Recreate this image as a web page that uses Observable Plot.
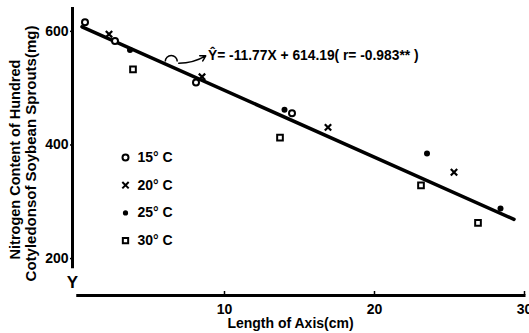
<!DOCTYPE html>
<html>
<head>
<meta charset="utf-8">
<script src="https://cdn.jsdelivr.net/npm/d3@7"></script>
<script src="https://cdn.jsdelivr.net/npm/@observablehq/plot@0.6"></script>
<style>
  html, body { margin: 0; padding: 0; background: #fff; }
  svg { display: block; }
</style>
</head>
<body>
<div id="chart"></div>
<script>
// ---- data ----
const series = ["15° C", "20° C", "25° C", "30° C"];
const x15 = [0.7, 2.7, 8.1, 14.5];
const y15 = [616, 583, 510, 456];
const x20 = [2.3, 8.5, 16.9, 25.3];
const y20 = [595, 520, 431, 352];
const x25 = [3.7, 14.0, 23.5, 28.4];
const y25 = [567, 462, 385, 288];
const x30 = [3.9, 13.7, 23.1, 26.9];
const y30 = [533, 413, 329, 263];
const fitX = [0.5, 29.3];
const fitY = [608, 269];
const xTicks = [10, 20, 30];
const yTicks = [200, 400, 600];
const equation = "Ŷ= -11.77X + 614.19( r= -0.983** )";
const xLabel = "Length of Axis(cm)";
const yLabel1 = "Nitrogen Content of Hundred";
const yLabel2 = "Cotyledonsof Soybean Sprouts(mg)";

const pts = (xs, ys) => xs.map((x, i) => ({x, y: ys[i]}));
const fit = pts(fitX, fitY);

const font = "Liberation Sans, Arial, sans-serif";
const semicircle = {
  draw(ctx, size) {
    const r = Math.sqrt(size / Math.PI);
    ctx.moveTo(-r, 0);
    ctx.arc(0, 0, r, Math.PI, 2 * Math.PI);
  }
};

const legendSym = [
  {symbol: "circle", fill: "none", stroke: "#000", r: 3},
  {symbol: "times", fill: "none", stroke: "#000", r: 3},
  {symbol: "circle", fill: "#000", stroke: "none", r: 2.6},
  {symbol: "square", fill: "none", stroke: "#000", r: 3}
];

const legendMarks = series.flatMap((s, i) => [
  Plot.dot([0], {frameAnchor: "top-left", dx: 51, dy: 150 + i * 27.7,
    symbol: legendSym[i].symbol, fill: legendSym[i].fill, stroke: legendSym[i].stroke,
    r: legendSym[i].r, strokeWidth: 2}),
  Plot.text([s], {frameAnchor: "top-left", dx: 63, dy: 150 + i * 27.7, text: d => d,
    textAnchor: "start", lineAnchor: "middle", fontSize: 14, fontWeight: "bold"})
]);

const chart = Plot.plot({
  width: 529,
  height: 333,
  marginLeft: 74,
  marginRight: 5,
  marginTop: 7,
  marginBottom: 38,
  style: {fontFamily: font, color: "#000", background: "#fff"},
  x: {domain: [0, 30]},
  y: {domain: [135, 642]},
  marks: [
    // axes
    Plot.ruleX([0], {y1: 182, y2: 642, strokeWidth: 3, dx: -2}),
    Plot.text(["Y"], {x: 0, y: 157, dx: -2, text: d => d, fontSize: 17, fontWeight: "bold"}),
    Plot.ruleY([135], {x1: 0.15, x2: 30.1, strokeWidth: 3}),
    Plot.ruleX(xTicks, {x: d => d, y1: 135, y2: 142, strokeWidth: 1.5}),
    Plot.axisX({ticks: xTicks, tickSize: 0, tickPadding: 9, fontSize: 14, fontWeight: "bold", label: null}),
    Plot.axisY({ticks: yTicks, tickSize: 4, tickPadding: 2, fontSize: 14, fontWeight: "bold", label: null, strokeWidth: 1.5}),
    // fit line
    Plot.line(fit, {x: "x", y: "y", strokeWidth: 3.5, stroke: "#000"}),
    // data points
    Plot.dot(pts(x15, y15), {x: "x", y: "y", symbol: "circle", r: 3, stroke: "#000", fill: "#fff", strokeWidth: 2}),
    Plot.dot(pts(x20, y20), {x: "x", y: "y", symbol: "times", r: 3, stroke: "#000", strokeWidth: 2.2}),
    Plot.dot(pts(x25, y25), {x: "x", y: "y", symbol: "circle", r: 3, fill: "#000"}),
    Plot.dot(pts(x30, y30), {x: "x", y: "y", symbol: "square", r: 3.2, stroke: "#000", fill: "#fff", strokeWidth: 2}),
    // annotation
    Plot.dot([{x: 6.45, y: 547}], {x: "x", y: "y", symbol: semicircle, r: 6, stroke: "#000", fill: "none", strokeWidth: 1.5}),
    Plot.arrow([{x1: 6.95, y1: 544, x2: 8.75, y2: 557}], {x1: "x1", y1: "y1", x2: "x2", y2: "y2", bend: -15, strokeWidth: 1.5, headLength: 6}),
    Plot.text([equation], {x: 8.9, y: 558, text: d => d, textAnchor: "start", fontSize: 13.8, fontWeight: "bold"}),
    // axis labels
    Plot.text([xLabel], {frameAnchor: "bottom", dx: -9, dy: 32, text: d => d, textAnchor: "middle", fontSize: 14, fontWeight: "bold"}),
    Plot.text([yLabel1], {frameAnchor: "left", dx: -59, dy: 8, rotate: -90, text: d => d, textAnchor: "middle", fontSize: 14.5, fontWeight: "bold"}),
    Plot.text([yLabel2], {frameAnchor: "left", dx: -43, dy: 2, rotate: -90, text: d => d, textAnchor: "middle", fontSize: 15, fontWeight: "bold"}),
    ...legendMarks
  ]
});
document.getElementById("chart").append(chart);
</script>
</body>
</html>
